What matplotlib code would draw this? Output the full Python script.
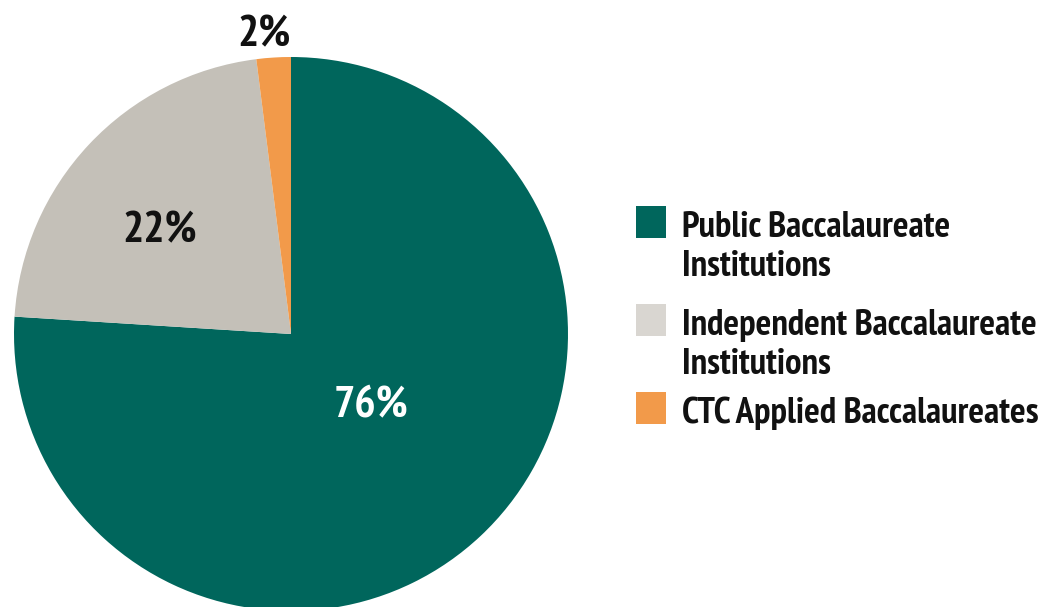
import matplotlib.pyplot as plt
from matplotlib.patches import Rectangle

# data
labels = ["Public Baccalaureate\nInstitutions",
          "Independent Baccalaureate\nInstitutions",
          "CTC Applied Baccalaureates"]
shares = [76, 22, 2]
pct_text = ["76%", "22%", "2%"]
colors = ["#00665C", "#C4C0B8", "#F29A4A"]
legend_colors = ["#00665C", "#D9D6D1", "#F29A4A"]

plt.rcParams["font.family"] = ["PT Sans Narrow", "Fira Sans Condensed",
                               "Roboto Condensed", "DejaVu Sans"]

W, H = 1044, 607
fig = plt.figure(figsize=(W / 100, H / 100), dpi=100)

# pie axes placed in pixels: center (291, 334), radius 277
cx, cy, r = 291, 334, 277
ax = fig.add_axes([(cx - r) / W, (H - cy - r) / H, 2 * r / W, 2 * r / H])
ax.pie(shares, colors=colors, startangle=90, counterclock=False,
       radius=1, wedgeprops=dict(linewidth=0))
ax.set_xlim(-1, 1)
ax.set_ylim(-1, 1)
ax.set_aspect("auto")
ax.axis("off")

# percentage labels (pie coords, baseline anchored)
label_pos = [(0.289, -0.30), (-0.473, 0.33), (-0.097, 1.04)]
label_col = ["white", "#111111", "#111111"]
for t, (x, y), c in zip(pct_text, label_pos, label_col):
    ax.text(x, y, t, color=c, fontsize=32, fontweight="bold",
            ha="center", va="baseline", clip_on=False)

# legend: square + text lines, first baseline at the square's bottom
row_top = [206, 304, 392]
line_gap = 39
for lab, col, top in zip(labels, legend_colors, row_top):
    fig.patches.append(Rectangle((636 / W, (H - top - 32) / H), 30 / W, 32 / H,
                                 transform=fig.transFigure, color=col, lw=0))
    for i, line in enumerate(lab.split("\n")):
        fig.text(682 / W, (H - top - 31 - i * line_gap) / H, line,
                 fontsize=26.5, fontweight="bold", color="#111111",
                 ha="left", va="baseline")

fig.savefig("out.png", dpi=100)
